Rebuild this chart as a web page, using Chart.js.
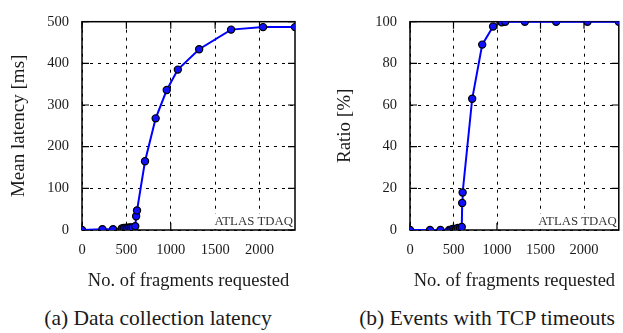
<!DOCTYPE html>
<html>
<head>
<meta charset="utf-8">
<script src="https://cdn.jsdelivr.net/npm/chart.js@4.4.1/dist/chart.umd.min.js"></script>
<style>
    body {
        margin: 0;
        width: 623px;
        height: 333px;
        overflow: hidden;
        background: #fff;
        position: relative;
        font-family: 'Liberation Serif', 'Times New Roman', Times, 'DejaVu Serif', 'Noto Serif', serif;
    }
    canvas {
        position: absolute;
        top: 0;
    }
    #latencyChart { left: 0; }
    #timeoutChart { left: 311px; }
    .cap {
        position: absolute;
        top: 306px;
        font-size: 21.5px;
        color: #1a1a1a;
        white-space: nowrap;
        transform: translateX(-50%);
    }
    #capA { left: 158px; }
    #capB { left: 487px; }
</style>
</head>
<body>
<canvas id="latencyChart" width="311" height="300"></canvas>
<canvas id="timeoutChart" width="313" height="300"></canvas>
<div class="cap" id="capA">(a) Data collection latency</div>
<div class="cap" id="capB">(b) Events with TCP timeouts</div>

<script>
// Tick positions
const fragmentTicks = [0, 500, 1000, 1500, 2000]
const latencyTicks = [0, 100, 200, 300, 400, 500]
const ratioTicks = [0, 20, 40, 60, 80, 100]

// (a) mean latency vs fragments requested
const latencyFragments = [0, 230, 350, 450, 470, 490, 510, 530, 550, 570, 600, 610, 620, 710, 830, 955, 1080, 1320, 1680, 2040, 2400]
const latencyMs = [0, 2, 2, 4, 5, 5, 5, 6, 6, 6, 9, 33, 47, 165, 268, 336, 385, 434, 481, 487, 487]

// (b) ratio of events with TCP timeouts
const ratioFragments = [0, 230, 350, 450, 470, 490, 510, 530, 550, 575, 595, 600, 605, 715, 830, 955, 1055, 1095, 1320, 1680, 2040, 2400]
const ratioPercent = [0, 0, 0, 0, 0, 0.5, 0.5, 0.5, 1, 1, 1.5, 13, 18, 63, 89, 97.7, 99.7, 100, 100, 100, 100, 100]

const watermark = 'ATLAS TDAQ'
const FONT = "'Liberation Serif', 'Times New Roman', Times, 'DejaVu Serif', 'Noto Serif', serif"
const TEXT = '#1a1a1a'

// gnuplot style frame: full box, inward ticks, boxed label in the corner
const framePlugin = {
    id: 'framePlugin',
    beforeDatasetsDraw(chart) {
        const { ctx, chartArea: a } = chart
        const xs = chart.scales.x
        const ys = chart.scales.y
        ctx.save()
        ctx.strokeStyle = '#000'
        ctx.lineWidth = 1.5
        ctx.strokeRect(a.left, a.top, a.right - a.left, a.bottom - a.top)

        ctx.lineWidth = 1.2
        ctx.beginPath()
        xs.ticks.forEach((t) => {
            const px = xs.getPixelForValue(t.value)
            ctx.moveTo(px, a.bottom)
            ctx.lineTo(px, a.bottom - 7)
            ctx.moveTo(px, a.top)
            ctx.lineTo(px, a.top + 7)
        })
        ys.ticks.forEach((t) => {
            const py = ys.getPixelForValue(t.value)
            ctx.moveTo(a.left, py)
            ctx.lineTo(a.left + 7, py)
            ctx.moveTo(a.right, py)
            ctx.lineTo(a.right - 7, py)
        })
        ctx.stroke()

        // label with opaque box
        ctx.fillStyle = '#fff'
        ctx.fillRect(a.right - 84, a.bottom - 16, 83, 15)
        ctx.font = '12.8px ' + FONT
        ctx.fillStyle = '#333'
        ctx.textAlign = 'right'
        ctx.textBaseline = 'middle'
        ctx.fillText(watermark, a.right - 2, a.bottom - 8)
        ctx.restore()
    },
}

function makeChart(id, xValues, yValues, yTicks, yMax, yTitle, yWidth, yTitlePad, padRight) {
    const ctx = document.getElementById(id).getContext('2d')
    const points = xValues.map((x, i) => ({ x: x, y: yValues[i] }))
    const gridOpts = {
        color: '#000',
        lineWidth: 1,
        drawTicks: false,
    }
    return new Chart(ctx, {
        type: 'scatter',
        data: {
            datasets: [
                {
                    data: points,
                    showLine: true,
                    borderColor: '#0000ff',
                    borderWidth: 2,
                    tension: 0,
                    pointRadius: 3.6,
                    pointBackgroundColor: '#1010ff',
                    pointBorderColor: '#000',
                    pointBorderWidth: 1.2,
                },
            ],
        },
        options: {
            responsive: false,
            animation: false,
            layout: {
                padding: { top: 15, right: padRight, left: 0, bottom: 0 },
            },
            plugins: {
                legend: { display: false },
                tooltip: { enabled: false },
            },
            scales: {
                x: {
                    type: 'linear',
                    min: 0,
                    max: 2400,
                    afterBuildTicks: (s) => {
                        s.ticks = fragmentTicks.map((v) => ({ value: v }))
                    },
                    afterFit: (s) => {
                        s.height = 70
                    },
                    grid: gridOpts,
                    border: { display: false, dash: [3, 5] },
                    ticks: {
                        padding: 11.5,
                        color: TEXT,
                        maxRotation: 0,
                        autoSkip: false,
                        font: { family: FONT, size: 14.5 },
                        callback: (v) => String(v),
                    },
                    title: {
                        display: true,
                        text: 'No. of fragments requested',
                        color: TEXT,
                        font: { family: FONT, size: 18.5 },
                        padding: { top: 0, bottom: 8 },
                    },
                },
                y: {
                    type: 'linear',
                    min: 0,
                    max: yMax,
                    afterBuildTicks: (s) => {
                        s.ticks = yTicks.map((v) => ({ value: v }))
                    },
                    afterFit: (s) => {
                        s.width = yWidth
                    },
                    grid: gridOpts,
                    border: { display: false, dash: [3, 5] },
                    ticks: {
                        padding: 13,
                        color: TEXT,
                        autoSkip: false,
                        font: { family: FONT, size: 14.5 },
                        callback: (v) => String(v),
                    },
                    title: {
                        display: true,
                        text: yTitle,
                        color: TEXT,
                        font: { family: FONT, size: 19 },
                        padding: { top: yTitlePad, bottom: 0 },
                    },
                },
            },
        },
        plugins: [framePlugin],
    })
}

makeChart('latencyChart', latencyFragments, latencyMs, latencyTicks, 500, 'Mean latency [ms]', 82, 8, 16)
makeChart('timeoutChart', ratioFragments, ratioPercent, ratioTicks, 100, 'Ratio [%]', 99, 22.5, 1)
</script>
</body>
</html>
